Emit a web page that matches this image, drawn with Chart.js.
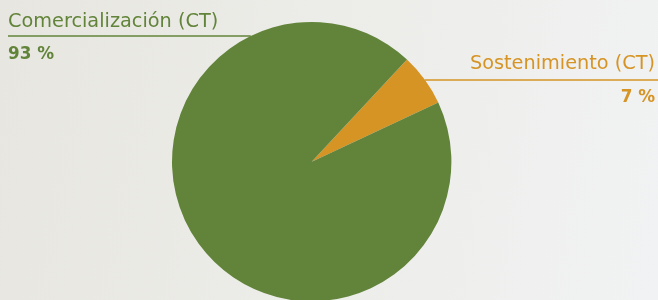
<!DOCTYPE html>
<html>
<head>
<meta charset="utf-8">
<script src="https://cdn.jsdelivr.net/npm/chart.js@4"></script>
<style>
  html, body { margin: 0; padding: 0; width: 658px; height: 300px; overflow: hidden; }
  body { background: linear-gradient(100deg, #e7e6e0 0%, #ecece8 45%, #f1f2f3 100%); }
  #wrap { width: 658px; height: 300px; overflow: hidden; }
</style>
</head>
<body>
<div id="wrap"><canvas id="myChart" width="658" height="330"></canvas></div>
<script>
// Data
var categories = ['Sostenimiento (CT)', 'Comercialización (CT)'];
var shares = [6.1, 93.9];
var shareLabels = ['7 %', '93 %'];
var colors = ['#d69425', '#62843a'];

// Labels with a rule out to the pie edge
var sideLabels = {
  id: 'sideLabels',
  afterDraw: function(chart) {
    var ctx = chart.ctx;
    var arc = chart.getDatasetMeta(0).data[0];
    var cx = arc.x, cy = arc.y, r = arc.outerRadius;
    var items = [
      { i: 1, y: 36, align: 'left', x: 8, up: 9, down: 23 },
      { i: 0, y: 80, align: 'right', x: 655, up: 11, down: 22 }
    ];
    items.forEach(function(it) {
      var dx = Math.sqrt(r * r - (cy - it.y) * (cy - it.y));
      ctx.save();
      ctx.strokeStyle = colors[it.i];
      ctx.lineWidth = 1.5;
      ctx.beginPath();
      if (it.align === 'left') {
        ctx.moveTo(it.x, it.y); ctx.lineTo(cx - dx, it.y);
      } else {
        ctx.moveTo(cx + dx, it.y); ctx.lineTo(658, it.y);
      }
      ctx.stroke();
      ctx.fillStyle = colors[it.i];
      ctx.textAlign = it.align;
      ctx.textBaseline = 'alphabetic';
      ctx.font = '19.3px "DejaVu Sans"';
      ctx.fillText(categories[it.i], it.x, it.y - it.up);
      ctx.font = 'bold 16.8px "DejaVu Sans"';
      ctx.fillText(shareLabels[it.i], it.x, it.y + it.down);
      ctx.restore();
    });
  }
};

var ctx = document.getElementById('myChart').getContext('2d');
var myChart = new Chart(ctx, {
  type: 'pie',
  data: {
    labels: categories,
    datasets: [{
      data: shares,
      backgroundColor: colors,
      borderWidth: 0
    }]
  },
  options: {
    responsive: false,
    animation: false,
    rotation: 43,
    layout: { padding: { left: 172, right: 206.6, top: 22, bottom: 28.6 } },
    plugins: {
      legend: { display: false },
      tooltip: { enabled: false }
    }
  },
  plugins: [sideLabels]
});
</script>
</body>
</html>
